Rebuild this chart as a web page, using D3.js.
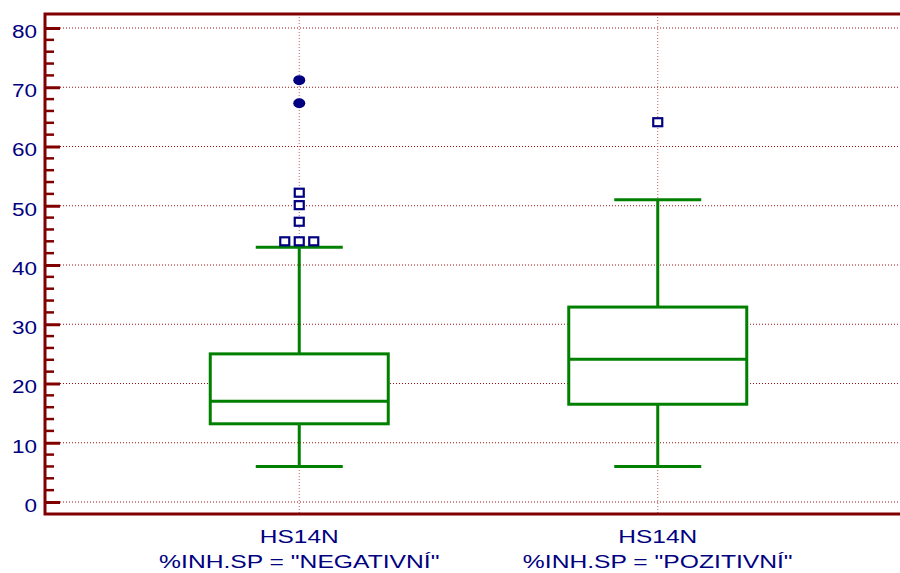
<!DOCTYPE html>
<html>
<head>
<meta charset="utf-8">
<script src="https://cdn.jsdelivr.net/npm/d3@7"></script>
<style>
  html, body { margin: 0; padding: 0; background: #fff; }
  svg { display: block; }
  text { font-family: "Liberation Sans", Arial, sans-serif; fill: #000080; }
</style>
</head>
<body>
<svg id="chart" width="900" height="573"></svg>
<script>
// Groups and their five-number summaries
const groups = ["NEGATIVNÍ", "POZITIVNÍ"];
const varName = "HS14N";
const whiskerLow = [6, 6];
const q1 = [13.2, 16.5];
const median = [17, 24.1];
const q3 = [25, 32.9];
const whiskerHigh = [43, 51];
// Outside values (squares) and far-out values (filled circles)
const outsideValues = [[44, 44, 44, 47.3, 50.1, 52.2], [64.1]];
const farOutValues = [[67.3, 71.2], []];
const yTicks = [0, 10, 20, 30, 40, 50, 60, 70, 80];

const svg = d3.select("#chart");
const frameLeft = 45, frameTop = 14, frameBottom = 514, frameRight = 900;

const y = d3.scaleLinear().domain([0, 80]).range([502, 28]);
const x = d3.scaleBand().domain(groups).range([120, 837]).padding(0);
const cx = g => x(g) + x.bandwidth() / 2;
const boxW = 178, capW = 87;

const red = "#800000", grid = "#a01010", green = "#008000", navy = "#000080";

// Horizontal grid lines
svg.append("g").selectAll("line").data(yTicks).join("line")
  .attr("x1", frameLeft + 15).attr("x2", frameRight)
  .attr("y1", d => y(d)).attr("y2", d => y(d))
  .attr("stroke", grid).attr("stroke-width", 1).attr("stroke-dasharray", "1,2");

// Vertical grid lines at each group
svg.append("g").selectAll("line").data(groups).join("line")
  .attr("x1", cx).attr("x2", cx)
  .attr("y1", frameTop).attr("y2", frameBottom)
  .attr("stroke", "#c06060").attr("stroke-width", 1).attr("stroke-dasharray", "1,2");

// Y axis: major ticks from d3.axisLeft, labels drawn wide
const yAxis = d3.axisLeft(y).tickValues(yTicks).tickSize(-15).tickFormat("");
const ya = svg.append("g").attr("transform", `translate(${frameLeft},0)`).call(yAxis);
ya.select(".domain").remove();
ya.selectAll(".tick line").attr("stroke", red).attr("stroke-width", 3);

svg.append("g").selectAll("text").data(yTicks).join("text")
  .attr("transform", d => `translate(37,${y(d) + 3.5}) scale(1.25,1)`)
  .attr("text-anchor", "end").attr("dy", "0.35em")
  .attr("font-size", 18).text(d => d);

const minor = d3.range(0, 81, 2).filter(v => v % 10 !== 0);
svg.append("g").selectAll("line").data(minor).join("line")
  .attr("x1", frameLeft).attr("x2", frameLeft + 9)
  .attr("y1", d => y(d)).attr("y2", d => y(d))
  .attr("stroke", red).attr("stroke-width", 2.5);

// Frame
svg.append("path")
  .attr("d", `M${frameRight},${frameTop}H${frameLeft}V${frameBottom}H${frameRight}`)
  .attr("fill", "none").attr("stroke", red).attr("stroke-width", 3);

// Boxes
const bx = svg.append("g");
groups.forEach((g, i) => {
  const c = cx(g);
  const s = bx.append("g").attr("stroke", green).attr("stroke-width", 3).attr("fill", "none");
  s.append("line").attr("x1", c).attr("x2", c).attr("y1", y(whiskerLow[i])).attr("y2", y(q1[i]));
  s.append("line").attr("x1", c).attr("x2", c).attr("y1", y(q3[i])).attr("y2", y(whiskerHigh[i]));
  s.append("line").attr("x1", c - capW / 2).attr("x2", c + capW / 2)
    .attr("y1", y(whiskerLow[i])).attr("y2", y(whiskerLow[i]));
  s.append("line").attr("x1", c - capW / 2).attr("x2", c + capW / 2)
    .attr("y1", y(whiskerHigh[i])).attr("y2", y(whiskerHigh[i]));
  s.append("rect").attr("x", c - boxW / 2).attr("width", boxW)
    .attr("y", y(q3[i])).attr("height", y(q1[i]) - y(q3[i])).attr("fill", "#fff");
  s.append("line").attr("x1", c - boxW / 2).attr("x2", c + boxW / 2)
    .attr("y1", y(median[i])).attr("y2", y(median[i]));

  // Outside values: ties spread side by side
  const counts = d3.rollup(outsideValues[i], v => v.length, d => d);
  counts.forEach((n, v) => {
    for (let k = 0; k < n; k++) {
      const off = (k - (n - 1) / 2) * 14.5;
      bx.append("rect").attr("x", c + off - 4.5).attr("y", y(v) - 4)
        .attr("width", 9).attr("height", 8)
        .attr("fill", "#fff").attr("stroke", navy).attr("stroke-width", 2.2);
    }
  });
  farOutValues[i].forEach(v => {
    bx.append("ellipse").attr("cx", c).attr("cy", y(v)).attr("rx", 6).attr("ry", 5)
      .attr("fill", navy);
  });
});

// Category labels
const lab = svg.append("g").attr("text-anchor", "middle").attr("font-size", 18);
groups.forEach(g => {
  lab.append("text").attr("transform", `translate(${cx(g)},543) scale(1.36,1)`).text(varName);
  lab.append("text").attr("transform", `translate(${cx(g)},568) scale(1.37,1)`)
    .text(`%INH.SP = "${g}"`);
});
</script>
</body>
</html>
